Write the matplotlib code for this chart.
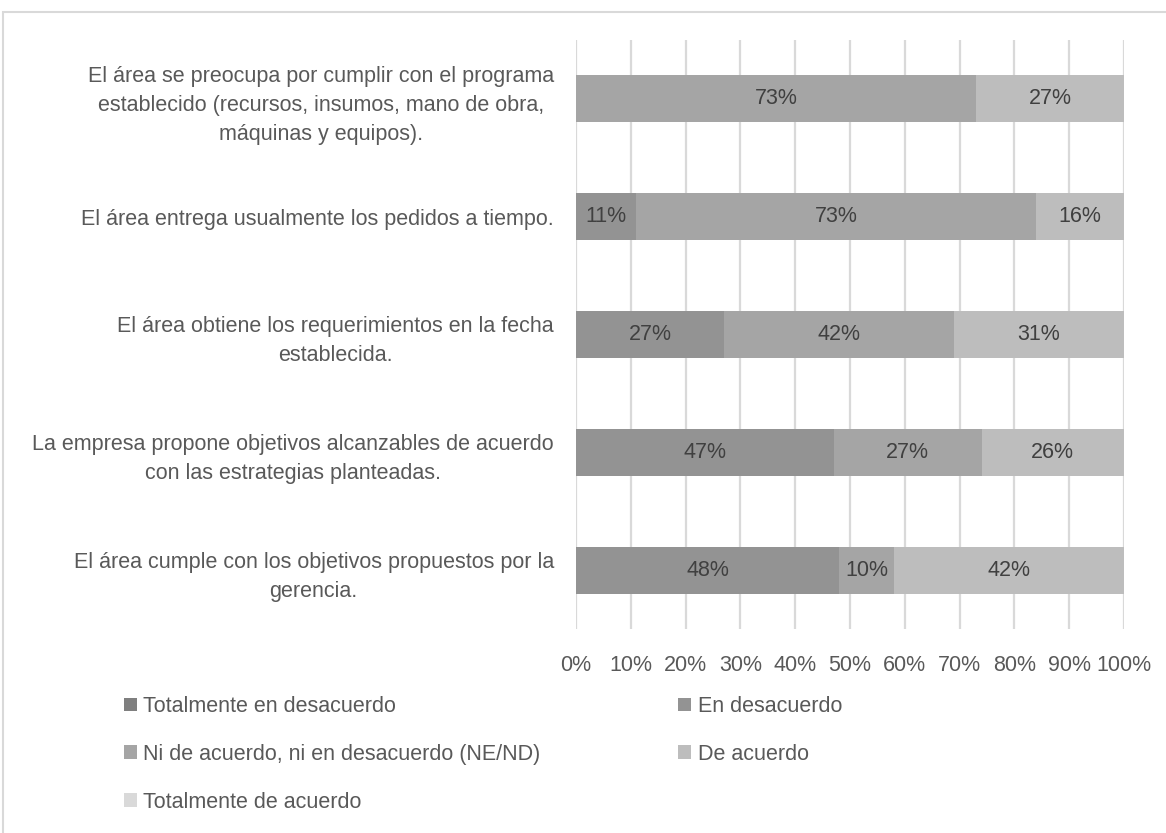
import matplotlib.pyplot as plt
import numpy as np
from matplotlib.patches import Rectangle

plt.rcParams['font.family'] = ['Liberation Sans', 'DejaVu Sans']

# Survey statements, listed top to bottom as they appear
preguntas = [
    'El área se preocupa por cumplir con el programa\nestablecido (recursos, insumos, mano de obra,\nmáquinas y equipos).',
    'El área entrega usualmente los pedidos a tiempo.',
    'El área obtiene los requerimientos en la fecha\nestablecida.',
    'La empresa propone objetivos alcanzables de acuerdo\ncon las estrategias planteadas.',
    'El área cumple con los objetivos propuestos por la\ngerencia.',
]

# Response shares (%) per statement
totalmente_desacuerdo = [0, 0, 0, 0, 0]
en_desacuerdo = [0, 11, 27, 47, 48]
ni_ni = [73, 73, 42, 27, 10]
de_acuerdo = [27, 16, 31, 26, 42]
totalmente_acuerdo = [0, 0, 0, 0, 0]

series = [
    ('Totalmente en desacuerdo', totalmente_desacuerdo, '#7f7f7f'),
    ('En desacuerdo', en_desacuerdo, '#939393'),
    ('Ni de acuerdo, ni en desacuerdo (NE/ND)', ni_ni, '#a5a5a5'),
    ('De acuerdo', de_acuerdo, '#bdbdbd'),
    ('Totalmente de acuerdo', totalmente_acuerdo, '#d9d9d9'),
]

txt = '#595959'
fs = 15.5

fig = plt.figure(figsize=(11.66, 8.33), dpi=100)
ax = fig.add_axes([576/1166, 1-629/833, 548/1166, 589/833])

y = np.arange(len(preguntas))
left = np.zeros(len(preguntas))
handles = []
for name, vals, col in series:
    vals = np.array(vals, dtype=float)
    bars = ax.barh(y, vals, left=left, height=0.4, color=col, label=name, zorder=2)
    handles.append(bars)
    for yi, l, v in zip(y, left, vals):
        if v > 0:
            ax.text(l + v/2, yi, f'{v:.0f}%', ha='center', va='center',
                    fontsize=fs, color='#404040', zorder=3)
    left += vals

ax.set_xlim(0, 100)
ax.set_ylim(-0.5, len(preguntas) - 0.5)
ax.invert_yaxis()
ax.set_xticks(np.arange(0, 101, 10))
ax.set_xticklabels([f'{t}%' for t in range(0, 101, 10)])
ax.set_yticks(y)
ax.set_yticklabels(preguntas)
for lab in ax.get_yticklabels():
    lab.set_multialignment('center')
    lab.set_linespacing(1.5)
ax.tick_params(axis='both', length=0, labelsize=fs, labelcolor=txt)
ax.tick_params(axis='x', pad=19)
ax.tick_params(axis='y', pad=16)
ax.grid(axis='x', color='#d9d9d9', linewidth=1.6, zorder=0)
for s in ax.spines.values():
    s.set_visible(False)

# legend filled row by row
order = [0, 2, 4, 1, 3]
fig.legend([handles[i] for i in order], [series[i][0] for i in order],
           loc='upper left', bbox_to_anchor=(124/1166, 1-696/833), ncol=2,
           frameon=False, fontsize=fs, labelcolor=txt, handlelength=0.6,
           handleheight=0.6, handletextpad=0.3, labelspacing=1.25,
           columnspacing=6.4, borderaxespad=0, borderpad=0)

# outer chart frame
fig.patches.append(Rectangle((3/1166, -0.1), 1.2, 1.1 - 12/833, transform=fig.transFigure,
                             fill=False, edgecolor='#d9d9d9', linewidth=1.5))

fig.savefig('out.png', dpi=100)
